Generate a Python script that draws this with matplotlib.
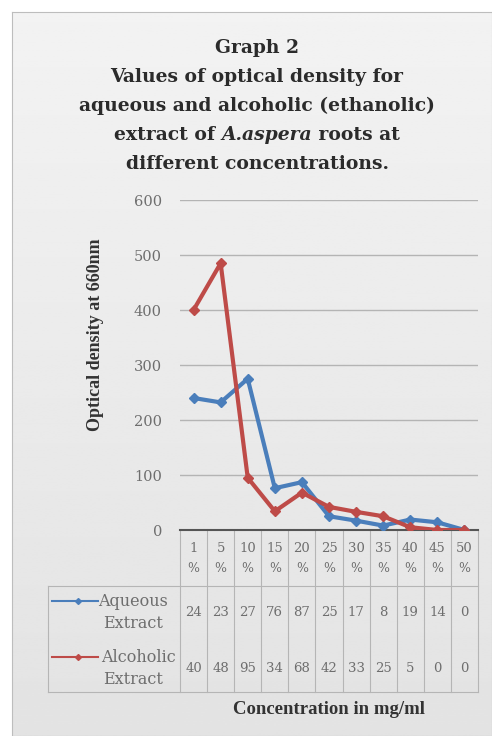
import numpy as np
import matplotlib
matplotlib.use("Agg")
import matplotlib.pyplot as plt
import matplotlib.transforms as mtransforms

# data
conc = ["1", "5", "10", "15", "20", "25", "30", "35", "40", "45", "50"]
aqueous = [240, 232, 275, 76, 87, 25, 17, 8, 19, 14, 0]
alcoholic = [400, 485, 95, 34, 68, 42, 33, 25, 5, 0, 0]
yticks = [0, 100, 200, 300, 400, 500, 600]

blue = "#4a7ebb"
red = "#be4b48"
grey_txt = "#6e6e6e"
serif = "DejaVu Serif"

plt.rcParams["font.family"] = "Liberation Serif"

W, H = 492, 736
fig = plt.figure(figsize=(W / 100, H / 100), dpi=100)
fig.patch.set_facecolor("white")

# grey gradient panel behind the chart
bg = fig.add_axes([12 / W, 0, 1 - 12 / W, 1 - 12 / H], zorder=0)
grad = np.linspace(0.95, 0.89, 256).reshape(-1, 1)
bg.imshow(grad, aspect="auto", cmap="gray", vmin=0, vmax=1, extent=[0, 1, 0, 1])
bg.set_xticks([])
bg.set_yticks([])
for s in bg.spines.values():
    s.set_color("#bdbdbd")

def px(x0, y0, x1, y1):
    return [x0 / W, 1 - y1 / H, (x1 - x0) / W, (y1 - y0) / H]

ax = fig.add_axes(px(180, 200, 478, 530), zorder=2)
ax.patch.set_alpha(0)
x = np.arange(len(conc))
ax.plot(x, aqueous, color=blue, lw=3, marker="D", ms=5, label="Aqueous Extract", zorder=3)
ax.plot(x, alcoholic, color=red, lw=3, marker="D", ms=5, label="Alcoholic Extract", zorder=4)
ax.set_xlim(-0.5, len(conc) - 0.5)
ax.set_ylim(0, 600)
ax.set_yticks(yticks)
ax.set_yticklabels([str(t) for t in yticks], color=grey_txt, fontsize=10.5, family=serif)
ax.tick_params(axis="y", length=0, pad=13)
ax.set_xticks([])
ax.grid(axis="y", color="#b4b4b4", lw=1)
for side in ["top", "right", "left"]:
    ax.spines[side].set_visible(False)
ax.spines["bottom"].set_color("#555555")
ax.spines["bottom"].set_linewidth(1.5)
ax.set_ylabel("Optical density at 660nm", fontsize=13, fontweight="bold",
              color="#333333")
ax.yaxis.set_label_coords(-0.255, (530 - 335) / 330.0)

# data table under the axis
tr = mtransforms.blended_transform_factory(ax.transData, ax.transAxes)
def ya(ypx):
    return (530 - ypx) / 330.0
def xa(xpx):
    return (xpx - 180) / 298.0

line_c = "#b5b5b5"
for i in range(len(conc) + 1):
    ax.plot([i - 0.5, i - 0.5], [ya(530), ya(692)], transform=tr, color=line_c,
            lw=0.8, clip_on=False)
ax.plot([xa(48), xa(478)], [ya(586), ya(586)], transform=ax.transAxes, color=line_c,
        lw=0.8, clip_on=False)
ax.plot([xa(48), xa(478)], [ya(692), ya(692)], transform=ax.transAxes, color=line_c,
        lw=0.8, clip_on=False)
ax.plot([xa(48), xa(48)], [ya(586), ya(692)], transform=ax.transAxes, color=line_c,
        lw=0.8, clip_on=False)

for i, c in enumerate(conc):
    ax.text(i, ya(548), c, transform=tr, ha="center", va="center", fontsize=9.5,
            color=grey_txt, family=serif)
    ax.text(i, ya(569), "%", transform=tr, ha="center", va="center", fontsize=9,
            color=grey_txt, family=serif)
    ax.text(i, ya(612), str(aqueous[i])[:2], transform=tr, ha="center", va="center",
            fontsize=9.5, color=grey_txt, family=serif)
    ax.text(i, ya(668), str(alcoholic[i])[:2], transform=tr, ha="center", va="center",
            fontsize=9.5, color=grey_txt, family=serif)

for name, col, y0, xr in [("Aqueous", blue, 601, 168), ("Alcoholic", red, 657, 176)]:
    ax.plot([xa(52), xa(98)], [ya(y0), ya(y0)], transform=ax.transAxes, color=col, lw=1.5,
            clip_on=False)
    ax.plot([xa(78)], [ya(y0)], transform=ax.transAxes, color=col, marker="D", ms=3,
            clip_on=False)
    ax.text(xa(xr), ya(y0), name, transform=ax.transAxes, ha="right", va="center",
            fontsize=11.5, color=grey_txt, family=serif)
    ax.text(xa(133), ya(y0 + 22), "Extract", transform=ax.transAxes, ha="center", va="center",
            fontsize=11.5, color=grey_txt, family=serif)

ax.text(xa(329), ya(710), "Concentration in mg/ml", transform=ax.transAxes, ha="center",
        va="center", fontsize=13.5, fontweight="bold", color="#333333")

# title
title_lines = [
    "Graph 2",
    "Values of optical density for",
    "aqueous and alcoholic (ethanolic)",
    None,
    "different concentrations.",
]
tkw = dict(fontsize=13.5, fontweight="bold", color="#2b2b2b", family=serif, va="center")
for k, t in enumerate(title_lines):
    if t is not None:
        fig.text(257 / W, 1 - (48 + 29 * k) / H, t, ha="center", **tkw)

# line with the italic species name, built from three pieces
yl = 1 - (48 + 29 * 3) / H
parts = [("extract of ", "normal"), ("A.aspera", "italic"), (" roots at", "normal")]
texts = [fig.text(0, yl, p, ha="left", style=st, **tkw) for p, st in parts]
rend = fig.canvas.get_renderer()
widths = [t.get_window_extent(rend).width for t in texts]
xstart = 257 - sum(widths) / 2
for t, w in zip(texts, widths):
    t.set_x(xstart / W)
    xstart += w

fig.savefig("out.png", dpi=100)
